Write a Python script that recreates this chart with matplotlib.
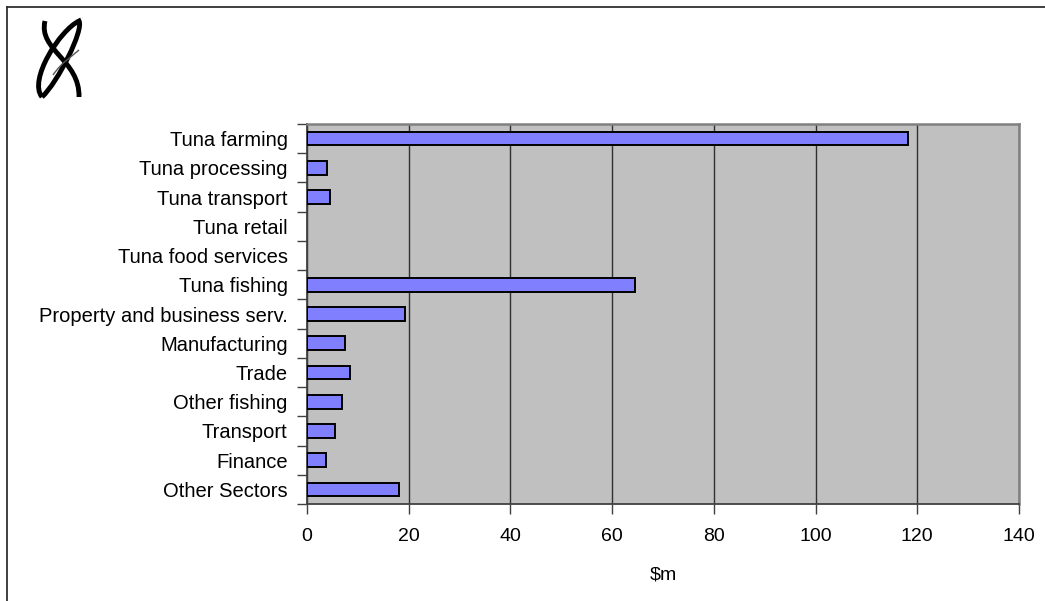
import matplotlib
matplotlib.use("Agg")
import matplotlib.pyplot as plt
from matplotlib.lines import Line2D
from matplotlib.path import Path
from matplotlib.patches import PathPatch
import numpy as np

categories = ["Tuna farming", "Tuna processing", "Tuna transport", "Tuna retail",
              "Tuna food services", "Tuna fishing", "Property and business serv.",
              "Manufacturing", "Trade", "Other fishing", "Transport", "Finance",
              "Other Sectors"]
values = [118.2, 3.9, 4.6, 0.0, 0.0, 64.5, 19.3, 7.5, 8.5, 6.9, 5.6, 3.7, 18.0]
xticks = [0, 20, 40, 60, 80, 100, 120, 140]
xlabel = "$m"

plt.rcParams['font.family'] = ['Liberation Sans', 'DejaVu Sans']
W, H = 1045, 601
fig = plt.figure(figsize=(W / 100, H / 100), dpi=100)
fig.patch.set_facecolor("white")

ax = fig.add_axes([307 / W, 97 / H, (1019 - 307) / W, (504 - 124) / H])
ax.set_facecolor("#C0C0C0")

n = len(categories)
ypos = np.arange(n)
lws = [1.4 if v > 0 else 0 for v in values]
ax.barh(ypos, values, height=0.47, color="#8080FF", edgecolor="black",
        linewidth=lws, zorder=3)
ax.set_xlim(0, 140)
ax.set_ylim(n - 0.5, -0.5)

ax.set_xticks(xticks)
ax.set_xticklabels([str(t) for t in xticks], fontsize=14)
ax.tick_params(axis="x", length=7, width=1, color="#404040", pad=10, direction="out")

ax.set_yticks(ypos)
ax.set_yticklabels(categories, fontsize=14.5)
ax.set_yticks(np.arange(n + 1) - 0.5, minor=True)
ax.tick_params(axis="y", which="major", length=0, pad=14)
ax.tick_params(axis="y", which="minor", length=7, width=1, color="#404040", direction="out")

ax.xaxis.grid(True, color="#303030", linewidth=1.0, zorder=1)
ax.set_axisbelow(True)

for s in ["left", "bottom"]:
    ax.spines[s].set_color("#404040")
    ax.spines[s].set_linewidth(1.3)
for s in ["top", "right"]:
    ax.spines[s].set_color("#808080")
    ax.spines[s].set_linewidth(1.8)

ax.set_xlabel(xlabel.replace("$", r"\$"), fontsize=14, labelpad=16)

# figure border (top and left)
fig.add_artist(Line2D([7 / W, 1], [1 - 7 / H, 1 - 7 / H], transform=fig.transFigure,
                      color="#303030", linewidth=1.3))
fig.add_artist(Line2D([7 / W, 7 / W], [0, 1 - 7 / H], transform=fig.transFigure,
                      color="#303030", linewidth=1.3))

# logo (calligraphic strokes)
def px(x, y):
    return (x / W, 1 - y / H)

verts1 = [px(42, 97), px(28, 80), px(60, 30), px(79, 21),
          px(84, 30), px(58, 82), px(42, 97)]
codes1 = [Path.MOVETO, Path.CURVE4, Path.CURVE4, Path.CURVE4,
          Path.CURVE4, Path.CURVE4, Path.CURVE4]
fig.add_artist(PathPatch(Path(verts1, codes1), transform=fig.transFigure,
                         facecolor="none", edgecolor="black", linewidth=3.5))
verts2 = [px(45, 21), px(38, 50), px(80, 60), px(79, 97)]
codes2 = [Path.MOVETO, Path.CURVE4, Path.CURVE4, Path.CURVE4]
fig.add_artist(PathPatch(Path(verts2, codes2), transform=fig.transFigure,
                         facecolor="none", edgecolor="black", linewidth=3.5))
verts3 = [px(53, 75), px(62, 62), px(70, 58), px(79, 50)]
fig.add_artist(PathPatch(Path(verts3, codes2), transform=fig.transFigure,
                         facecolor="none", edgecolor="#555555", linewidth=1.0))

fig.savefig("out.png", dpi=100)
